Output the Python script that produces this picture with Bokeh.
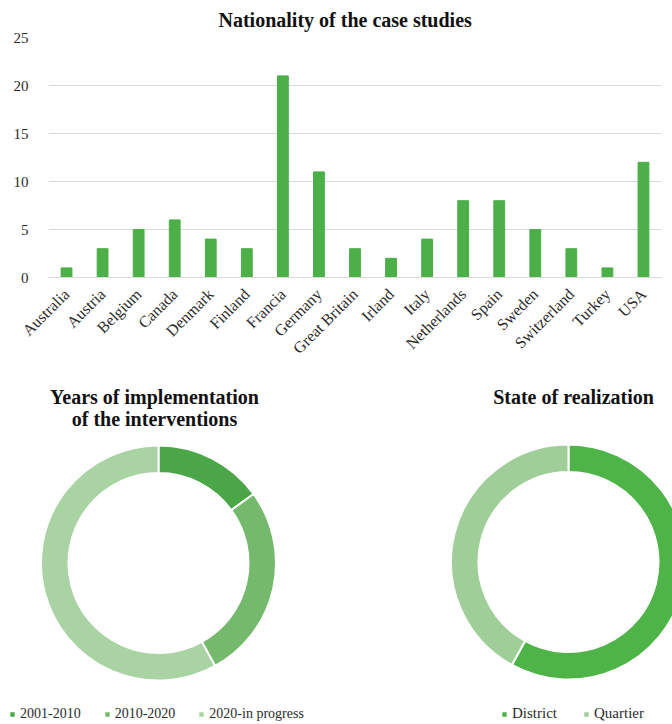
import math
from bokeh.plotting import figure
from bokeh.models import (ColumnDataSource, FactorRange, Range1d, FixedTicker, Label,
                          Legend, LegendItem)
from bokeh.layouts import column, row
from bokeh.embed import file_html
from bokeh.resources import INLINE

# ---------------- data ----------------
countries = ["Australia", "Austria", "Belgium", "Canada", "Denmark", "Finland", "Francia",
             "Germany", "Great Britain", "Irland", "Italy", "Netherlands", "Spain", "Sweden",
             "Switzerland", "Turkey", "USA"]
case_counts = [1, 3, 5, 6, 4, 3, 21, 11, 3, 2, 4, 8, 8, 5, 3, 1, 12]
y_ticks = [0, 5, 10, 15, 20, 25]
bar_title = "Nationality of the case studies"

years_labels = ["2001-2010", "2010-2020", "2020-in progress"]
years_values = [15, 27, 58]
years_colors = ["#4ba647", "#74b96c", "#a9d3a3"]
years_title = ["Years of implementation", "of the interventions"]

state_labels = ["District", "Quartier"]
state_values = [58, 42]
state_colors = ["#4fb448", "#a0ce99"]
state_title = "State of realization"

SERIF = "Liberation Serif"
BAR_COLOR = "#4caf48"
GRID = "#d9d9d9"
TEXT = "#2b2b2b"

# ---------------- bar chart ----------------
p = figure(x_range=FactorRange(factors=countries), y_range=Range1d(0, 25),
           width=672, height=380, output_backend="svg", toolbar_location=None,
           min_border_left=48, min_border_right=11, min_border_top=37, min_border_bottom=103,
           title=bar_title)
p.title.text_font = SERIF
p.title.text_font_size = "20px"
p.title.text_font_style = "bold"
p.title.align = "left"
p.title.offset = 170
p.title.standoff = 13
p.title.text_color = "#111111"
p.outline_line_color = None

p.vbar(x=countries, top=case_counts, width=0.3, color=BAR_COLOR)

p.xgrid.visible = False
p.ygrid.grid_line_color = GRID
p.ygrid.ticker = FixedTicker(ticks=y_ticks)
p.yaxis.ticker = FixedTicker(ticks=y_ticks)
p.yaxis.axis_line_color = None
p.yaxis.major_tick_line_color = None
p.yaxis.minor_tick_line_color = None
p.yaxis.major_label_standoff = 14
p.xaxis.axis_line_color = GRID
p.xaxis.major_tick_line_color = None
p.xaxis.minor_tick_line_color = None
p.xaxis.major_label_orientation = math.pi / 4
p.xaxis.major_label_standoff = 8
for ax in (p.xaxis, p.yaxis):
    ax.major_label_text_font = SERIF
    ax.major_label_text_color = TEXT
p.yaxis.major_label_text_font_size = "15px"
p.xaxis.major_label_text_font_size = "16px"


# ---------------- donuts ----------------
def donut(width, height, cx, cy, labels, values, colors, legend_x, spacing, font_size):
    f = figure(width=width, height=height, x_range=Range1d(0, width), y_range=Range1d(0, height),
               min_border=0, output_backend="svg", toolbar_location=None,
               x_axis_type=None, y_axis_type=None)
    f.grid.visible = False
    f.outline_line_color = None
    total = float(sum(values))
    starts, ends, acc = [], [], 0.0
    for v in values:
        starts.append(math.pi / 2 - 2 * math.pi * acc / total)
        acc += v
        ends.append(math.pi / 2 - 2 * math.pi * acc / total)
    src = ColumnDataSource(dict(label=labels, value=values, color=colors,
                                start=starts, end=ends))
    r = f.annular_wedge(x=cx, y=cy, inner_radius=90, outer_radius=117.5,
                        start_angle="start", end_angle="end", direction="clock",
                        fill_color="color", line_color="white", line_width=2, source=src)
    items = [LegendItem(label=lab, renderers=[r], index=i) for i, lab in enumerate(labels)]
    leg = Legend(items=items, orientation="horizontal", location=(legend_x, 2),
                 glyph_width=8, glyph_height=8, label_standoff=4, spacing=spacing,
                 padding=0, margin=0, border_line_color=None, background_fill_alpha=0,
                 label_text_font=SERIF, label_text_font_size=font_size,
                 label_text_color=TEXT)
    f.add_layout(leg)
    return f


H2 = 344
d1 = donut(340, H2, 158, 161.5, years_labels, years_values, years_colors, 8, 22, "14px")
d2 = donut(332, H2, 228, 162.5, state_labels, state_values, state_colors, 160, 25, "15px")

for txt, y in zip(years_title, [328, 306]):
    d1.add_layout(Label(x=154, y=y, x_units="screen", y_units="screen", text=txt,
                        text_align="center", text_baseline="alphabetic", text_font=SERIF,
                        text_font_size="20px", text_font_style="bold", text_color="#111111"))
d2.add_layout(Label(x=233, y=328, x_units="screen", y_units="screen", text=state_title,
                    text_align="center", text_baseline="alphabetic", text_font=SERIF,
                    text_font_size="20px", text_font_style="bold", text_color="#111111"))

layout = column(p, row(d1, d2, spacing=0), spacing=0)
open("out.html", "w").write(file_html(layout, INLINE))
